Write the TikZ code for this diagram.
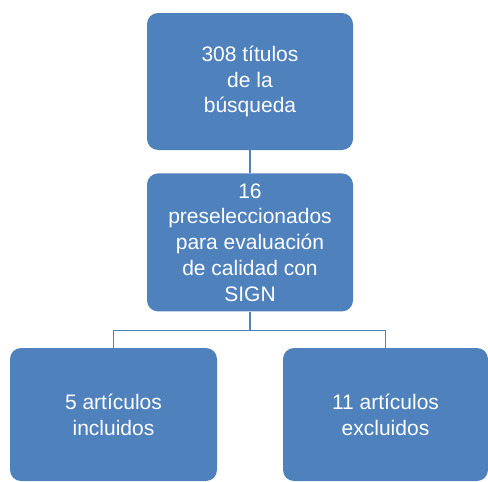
\documentclass[tikz,border=0pt]{standalone}
\usepackage{fontspec}
\setmainfont{Liberation Sans}
\usepackage{xcolor}
\usepackage{tikz}
\usetikzlibrary{positioning, calc}
\definecolor{boxblue}{HTML}{4F81BD}
\tikzstyle{stage} = [rectangle, rounded corners=11pt, fill=boxblue, text=white, align=center, inner sep=0pt, font=\fontsize{21}{25.8}\selectfont]
\tikzstyle{link} = [draw=boxblue, line width=1.6pt]

\begin{document}
\begin{tikzpicture}[x=1pt,y=1pt]
              \useasboundingbox (0,0) rectangle (488,-482);

              \node[stage, minimum width=206pt, minimum height=137pt] (search) at (250,-81.5) {308 títulos\\de la\\búsqueda};
              \node[stage, minimum width=206pt, minimum height=138pt, below=23pt of search] (presel) {16\\preseleccionados\\para evaluación\\de calidad con\\SIGN};
              \node[stage, minimum width=207pt, minimum height=133pt] (incl) at (113.5,-414.5) {5 artículos\\incluidos};
              \node[stage, minimum width=205pt, minimum height=133pt] (excl) at (385.5,-414.5) {11 artículos\\excluidos};

              \draw[link] (search) -- (presel);
              \draw[link] (presel.south) -- ++(0,-19) coordinate (split) -| (incl.north);
              \draw[link] (split) -| (excl.north);
          \end{tikzpicture}
\end{document}
